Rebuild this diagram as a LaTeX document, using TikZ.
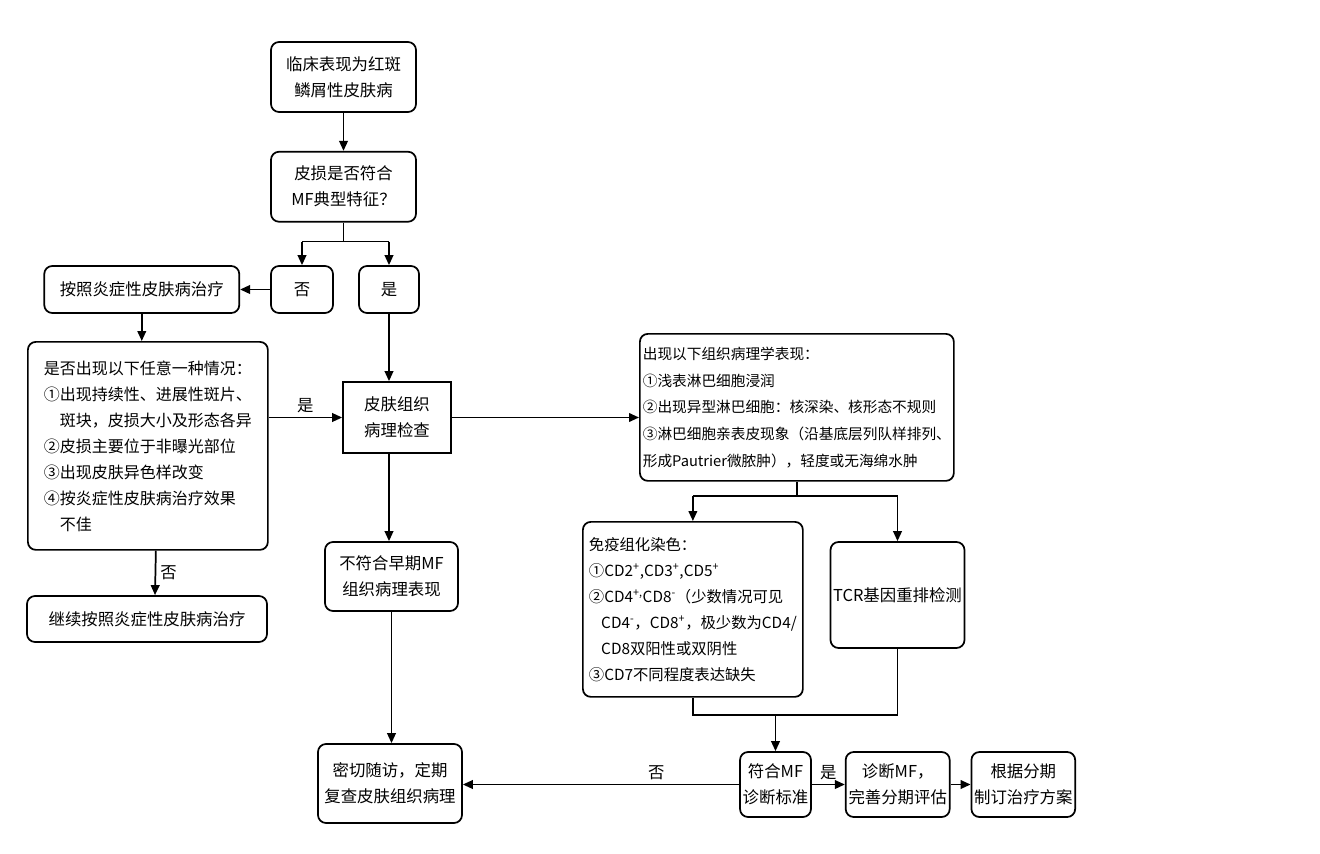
\documentclass[tikz,border=0pt]{standalone}
\usepackage{fontspec}
\setmainfont{Noto Sans CJK SC}
\usepackage{tikz}
\usetikzlibrary{arrows.meta,positioning,calc}

\begin{document}
\begin{tikzpicture}[
  x=0.75pt, y=-0.75pt,
  font=\fontsize{12.3}{19.5}\selectfont,
  sz/.style 2 args={minimum width=#1*0.75pt, minimum height=#2*0.75pt},
  box/.style={draw, line width=1.3pt, rounded corners=6pt, align=center, inner sep=2pt},
  sqbox/.style={draw, line width=1.3pt, align=center, inner sep=2pt},
  listbox/.style={box, align=left, anchor=north west},
  arr/.style={-{Triangle[length=7.5pt,width=6.5pt]}, line width=1.3pt},
  link/.style={line width=1.3pt},
  note/.style={inner sep=3pt}
]
\useasboundingbox (0,0) rectangle (1320,853);

% main column
\node[box, sz={145}{70}] (clin) at (343.5,77) {临床表现为红斑\\鳞屑性皮肤病};
\node[box, sz={145}{70}, below=28.5pt of clin] (typ) {皮损是否符合\\MF典型特征？};
\node[box, sz={62}{47}] (no) at (302,289.5) {否};
\node[box, sz={60}{47}] (yes) at (389,289.5) {是};
\node[box, sz={195}{47}, left=22.5pt of no] (treat) {按照炎症性皮肤病治疗};
\node[listbox, sz={240}{208}, font=\fontsize{12}{19.5}\selectfont] (cond) at (27,341) {是否出现以下任意一种情况：\\
①出现持续性、进展性斑片、\\
\hspace*{1em}斑块，皮损大小及形态各异\\
②皮损主要位于非曝光部位\\
③出现皮肤异色样改变\\
④按炎症性皮肤病治疗效果\\
\hspace*{1em}不佳};
\node[box, sz={240}{46}] (cont) at (147,619) {继续按照炎症性皮肤病治疗};
\node[sqbox, sz={108}{71}] (biopsy) at (397,417.5) {皮肤组织\\病理检查};
\node[box, sz={133}{69}] (nofit) at (391.5,576.5) {不符合早期MF\\组织病理表现};
\node[box, sz={144}{79}] (follow) at (390,783.5) {密切随访，定期\\复查皮肤组织病理};

% right side
\node[listbox, sz={314}{147}, font=\fontsize{11}{20}\selectfont] (histo) at (639,333) {出现以下组织病理学表现：\\
①浅表淋巴细胞浸润\\
②出现异型淋巴细胞：核深染、核形态不规则\\
③淋巴细胞亲表皮现象（沿基底层列队样排列、\\
形成Pautrier微脓肿），轻度或无海绵水肿};
\node[listbox, sz={220}{175}, font=\fontsize{11.5}{19.5}\selectfont] (ihc) at (582,521) {免疫组化染色：\\
①CD2\textsuperscript{+},CD3\textsuperscript{+},CD5\textsuperscript{+}\\
②CD4\textsuperscript{+,}CD8\textsuperscript{-}（少数情况可见\\
\hspace*{0.8em}CD4\textsuperscript{-}，CD8\textsuperscript{+}，极少数为CD4/\\
\hspace*{0.8em}CD8双阳性或双阴性\\
③CD7不同程度表达缺失};
\node[box, sz={133}{106}] (tcr) at (897.5,595) {TCR基因重排检测};
\node[box, sz={69}{65}] (mfc) at (775.5,784.5) {符合MF\\诊断标准};
\node[box, sz={104}{65}, right=24.75pt of mfc] (diag) {诊断MF，\\完善分期评估};
\node[box, sz={102}{65}, right=15pt of diag] (plan) {根据分期\\制订治疗方案};

% connectors
\draw[arr] (clin) -- (typ);
\draw[link] (typ.south) -- ++(0,19) coordinate (split1);
\draw[link] (split1 -| no) -- (split1 -| yes);
\draw[arr] (split1 -| no) -- (no.north);
\draw[arr] (split1 -| yes) -- (yes.north);
\draw[arr] (no) -- (treat);
\draw[arr] (treat.south) -- (treat.south |- cond.north);
\draw[arr] (yes) -- (yes |- biopsy.north);
\draw[arr] (cond.east |- biopsy) -- node[note, above]{是} (biopsy.west);
\draw[arr] ([xshift=6pt]cond.south) -- node[note, right]{否} ([xshift=6pt]cont.north);
\draw[arr] (biopsy.east) -- (biopsy.east -| histo.west);
\draw[arr] (yes |- biopsy.south) -- (yes |- nofit.north);
\draw[arr] (nofit.south) -- (nofit.south |- follow.north);
\draw[link] (histo.south) -- ++(0,14) coordinate (split2);
\draw[link] (split2 -| ihc) -- (split2 -| tcr);
\draw[arr] (split2 -| ihc) -- (ihc.north);
\draw[arr] (split2 -| tcr) -- (tcr.north);
\draw[link] (ihc.south) -- ++(0,17) coordinate (merge) -| (tcr.south);
\draw[arr] (merge -| mfc) -- (mfc.north);
\draw[arr] (mfc.west) -- node[note, above, pos=0.3]{否} (mfc.west -| follow.east);
\draw[arr] (mfc) -- node[note, above]{是} (diag);
\draw[arr] (diag) -- (plan);
\end{tikzpicture}
\end{document}
